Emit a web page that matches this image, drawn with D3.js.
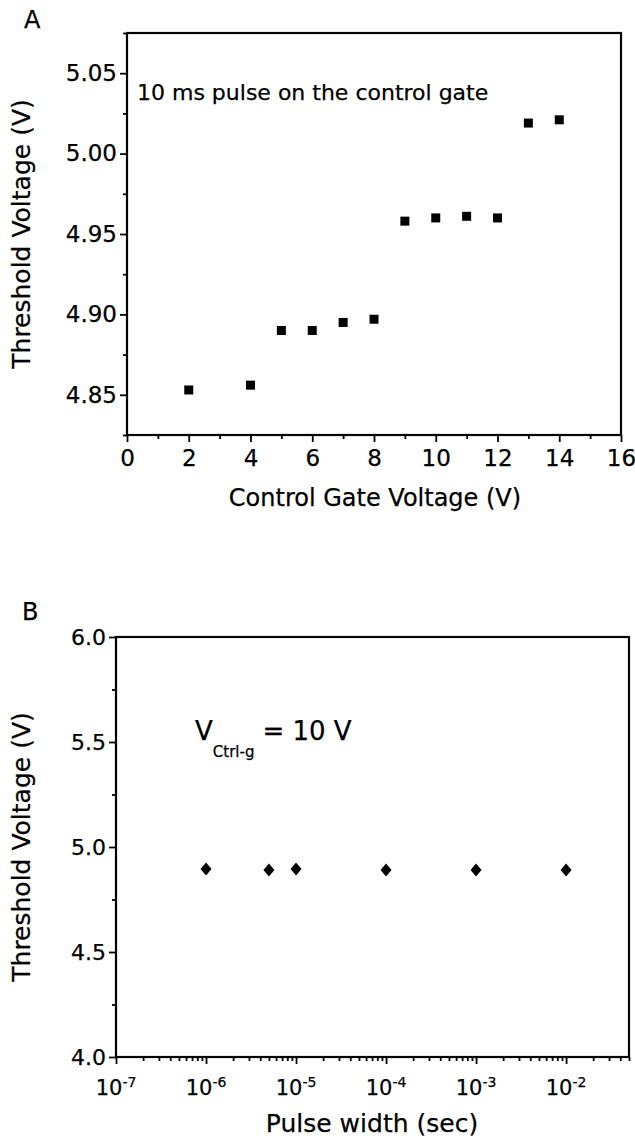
<!DOCTYPE html>
<html><head><meta charset="utf-8">
<script src="https://cdn.jsdelivr.net/npm/d3@7/dist/d3.min.js"></script>
<style>
body{margin:0;background:#fff}
text{font-family:"DejaVu Sans",sans-serif;fill:#000;stroke:#000;stroke-width:0.25px}
</style>
</head><body>
<svg id="c" width="635" height="1142"></svg>
<script>
// ---- data ----
const gateVoltages = [2, 4, 5, 6, 7, 8, 9, 10, 11, 12, 13, 14];
const thresholdA   = [4.853, 4.856, 4.890, 4.890, 4.895, 4.897, 4.958, 4.960, 4.961, 4.960, 5.019, 5.021];
const pulseWidths  = [1e-6, 5e-6, 1e-5, 1e-4, 1e-3, 1e-2];
const thresholdB   = [4.895, 4.89, 4.895, 4.89, 4.89, 4.89];
const xTicksA = [0, 2, 4, 6, 8, 10, 12, 14, 16];
const yTicksA = [4.85, 4.90, 4.95, 5.00, 5.05];
const yTicksB = [4.0, 4.5, 5.0, 5.5, 6.0];
const xTickExpB = [-7, -6, -5, -4, -3, -2];

const svg = d3.select("#c");

// ---- Panel A ----
const xA = d3.scaleLinear().domain([0, 16]).range([127, 621]);
const yA = d3.scaleLinear().domain([4.825, 5.075]).range([435, 33]);
const gA = svg.append("g");

gA.append("rect").attr("x", xA(0)).attr("y", yA(5.075))
  .attr("width", xA(16) - xA(0)).attr("height", yA(4.825) - yA(5.075))
  .attr("fill", "none").attr("stroke", "#000").attr("stroke-width", 2.2);

const minorXA = d3.range(1, 16, 2);
const minorYA = d3.range(0, 6).map(i => 4.825 + i * 0.05);

function styleAxis(g, fs) {
  g.select(".domain").remove();
  g.selectAll(".tick line").attr("stroke", "#000").attr("stroke-width", 1.8);
  g.selectAll(".tick text").attr("font-size", fs).attr("font-family", "DejaVu Sans").attr("fill", "#000");
}

gA.append("g").attr("transform", `translate(0,${yA(4.825)})`)
  .call(d3.axisBottom(xA).tickValues(xTicksA).tickSize(7).tickPadding(8).tickFormat(d3.format("d")))
  .call(g => styleAxis(g, 23));
gA.append("g").attr("transform", `translate(0,${yA(4.825)})`)
  .call(d3.axisBottom(xA).tickValues(minorXA).tickSize(4).tickFormat(""))
  .call(g => styleAxis(g, 23));
gA.append("g").attr("transform", `translate(${xA(0)},0)`)
  .call(d3.axisLeft(yA).tickValues(yTicksA).tickSize(7).tickPadding(3).tickFormat(d3.format(".2f")))
  .call(g => styleAxis(g, 23));
gA.append("g").attr("transform", `translate(${xA(0)},0)`)
  .call(d3.axisLeft(yA).tickValues(minorYA).tickSize(4).tickFormat(""))
  .call(g => styleAxis(g, 23));

gA.selectAll("rect.pt").data(gateVoltages.map((v, i) => [v, thresholdA[i]]))
  .enter().append("rect").attr("class", "pt")
  .attr("x", d => xA(d[0]) - 4.5).attr("y", d => yA(d[1]) - 4.5)
  .attr("width", 9).attr("height", 9).attr("fill", "#000");

gA.append("text").attr("x", 137).attr("y", 100).attr("font-size", 22)
  .text("10 ms pulse on the control gate");
gA.append("text").attr("x", 375).attr("y", 506).attr("font-size", 24)
  .attr("text-anchor", "middle").text("Control Gate Voltage (V)");
gA.append("text").attr("transform", `translate(30,${(yA(4.825) + yA(5.075)) / 2}) rotate(-90)`)
  .attr("font-size", 25).attr("text-anchor", "middle").text("Threshold Voltage (V)");
gA.append("text").attr("x", 24).attr("y", 28).attr("font-size", 24).text("A");

// ---- Panel B ----
const xB = d3.scaleLog().domain([1e-7, 0.05]).range([116, 629]);
const yB = d3.scaleLinear().domain([4, 6]).range([1057, 637]);
const gB = svg.append("g");

gB.append("rect").attr("x", xB(1e-7)).attr("y", yB(6))
  .attr("width", xB(0.05) - xB(1e-7)).attr("height", yB(4) - yB(6))
  .attr("fill", "none").attr("stroke", "#000").attr("stroke-width", 2.2);

const majorXB = xTickExpB.map(e => Math.pow(10, e));
const minorXB = [];
xTickExpB.forEach(e => { for (let k = 2; k <= 9; k++) { const v = k * Math.pow(10, e); if (v <= 0.05) minorXB.push(v); } });
const minorYB = [4.25, 4.75, 5.25, 5.75];

gB.append("g").attr("transform", `translate(0,${yB(4)})`)
  .call(d3.axisBottom(xB).tickValues(majorXB).tickSize(7).tickFormat(""))
  .call(g => styleAxis(g, 21));
gB.append("g").attr("transform", `translate(0,${yB(4)})`)
  .call(d3.axisBottom(xB).tickValues(minorXB).tickSize(4).tickFormat(""))
  .call(g => styleAxis(g, 21));
gB.append("g").attr("transform", `translate(${xB(1e-7)},0)`)
  .call(d3.axisLeft(yB).tickValues(yTicksB).tickSize(7).tickPadding(3).tickFormat(d3.format(".1f")))
  .call(g => styleAxis(g, 22));
gB.append("g").attr("transform", `translate(${xB(1e-7)},0)`)
  .call(d3.axisLeft(yB).tickValues(minorYB).tickSize(4).tickFormat(""))
  .call(g => styleAxis(g, 22));

// log tick labels with superscripts
const lbl = gB.selectAll("text.xl").data(xTickExpB).enter().append("text").attr("class", "xl")
  .attr("x", d => xB(Math.pow(10, d))).attr("y", 1095).attr("text-anchor", "middle").attr("font-size", 21);
lbl.append("tspan").text("10");
lbl.append("tspan").attr("dy", -8).attr("font-size", 14).text(d => "-" + Math.abs(d));

gB.selectAll("path.pt").data(pulseWidths.map((v, i) => [v, thresholdB[i]]))
  .enter().append("path").attr("class", "pt")
  .attr("transform", d => `translate(${xB(d[0])},${yB(d[1])})`)
  .attr("d", "M0,-6.5L5.5,0L0,6.5L-5.5,0Z").attr("fill", "#000");

const vt = gB.append("text").attr("x", 195).attr("y", 740).attr("font-size", 26);
vt.append("tspan").text("V");
vt.append("tspan").attr("dy", 17).attr("font-size", 15).text("Ctrl-g");
vt.append("tspan").attr("dy", -17).attr("dx", 8).text("= 10 V");

gB.append("text").attr("x", 372).attr("y", 1132).attr("font-size", 25)
  .attr("text-anchor", "middle").text("Pulse width (sec)");
gB.append("text").attr("transform", `translate(30,${(yB(4) + yB(6)) / 2}) rotate(-90)`)
  .attr("font-size", 25).attr("text-anchor", "middle").text("Threshold Voltage (V)");
gB.append("text").attr("x", 22).attr("y", 620).attr("font-size", 24).text("B");
</script>
</body></html>
